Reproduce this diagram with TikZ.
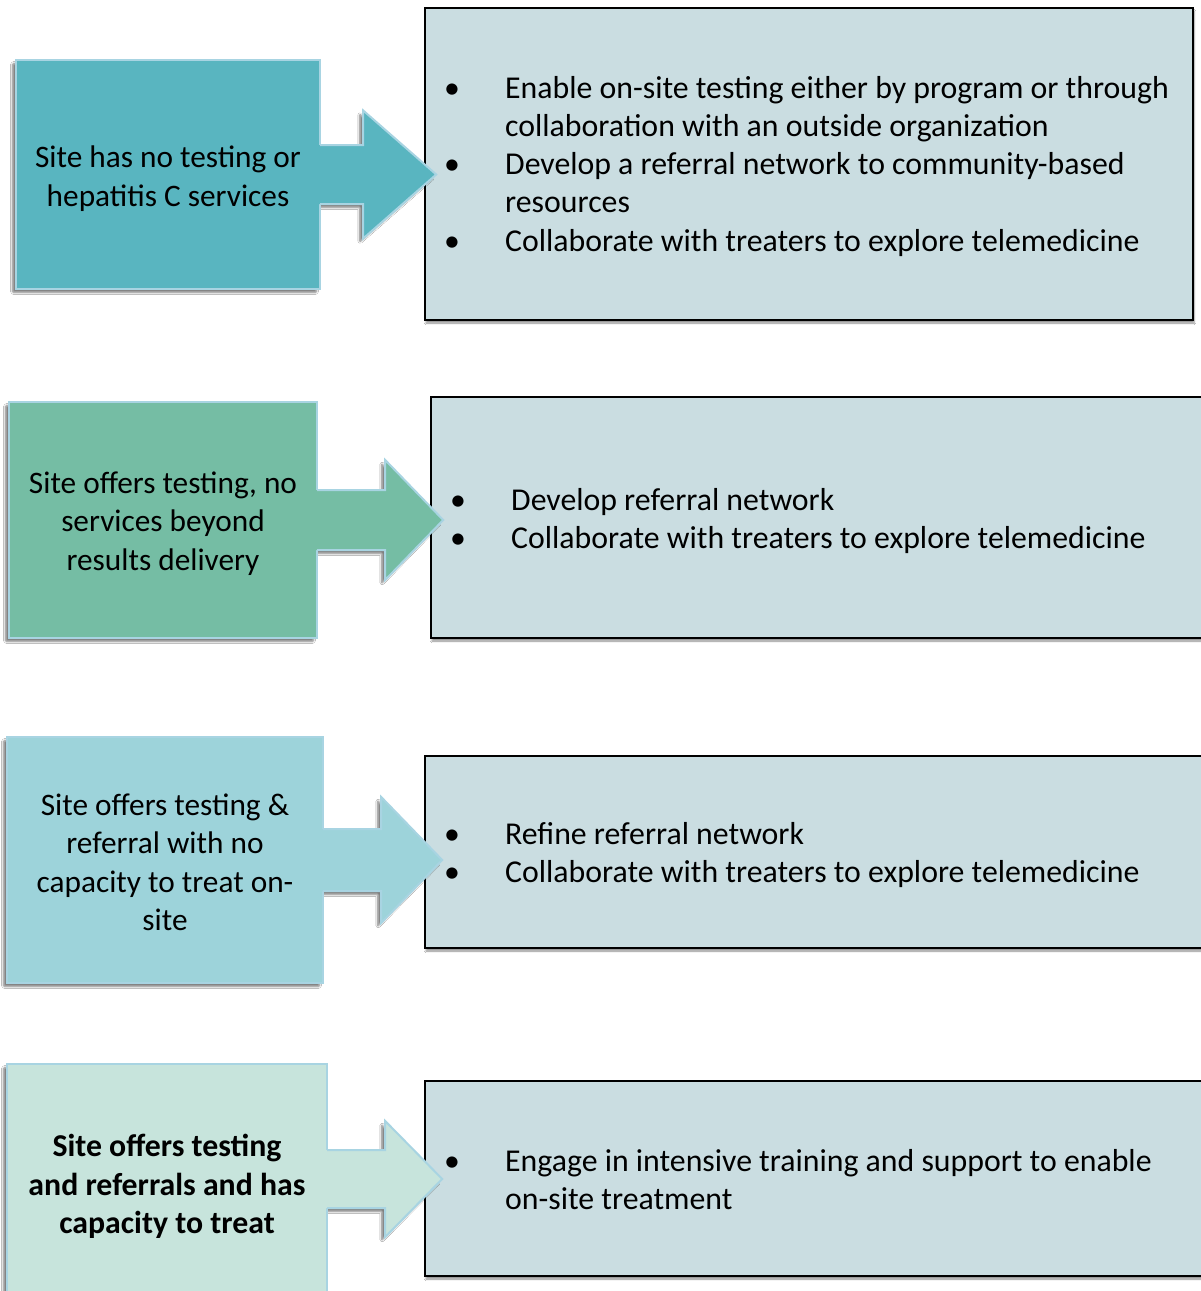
\documentclass[tikz,border=0pt]{standalone}
\usepackage{fontspec}
\setmainfont{Carlito}
\usetikzlibrary{calc,shadows.blur}

\definecolor{stageA}{HTML}{59B5C0}
\definecolor{stageB}{HTML}{75BDA4}
\definecolor{stageC}{HTML}{9DD3DA}
\definecolor{stageD}{HTML}{C7E4DC}
\definecolor{edgeblue}{HTML}{A8D4E2}
\definecolor{panel}{HTML}{CADDE1}

\tikzset{
  softshadow/.style={blur shadow={shadow xshift=-3.5pt,shadow yshift=-3.5pt,
      shadow blur steps=6,shadow blur extra rounding=1pt,shadow opacity=50}},
  stagebox/.style={draw=edgeblue,line width=2pt,inner sep=0pt,softshadow},
  stagetext/.style={align=center,inner sep=0pt,font=\fontsize{31.3}{38.5}\selectfont},
  panelbox/.style={draw=black,line width=1.6pt,fill=panel,inner sep=0pt,
      blur shadow={shadow xshift=1pt,shadow yshift=-3pt,shadow blur steps=6,shadow opacity=45}},
  paneltext/.style={anchor=base west,inner sep=0pt,font=\fontsize{31.8}{38.3}\selectfont},
  arrowedge/.style={draw=edgeblue,line width=2pt,line join=miter},
}

% outline of a block arrow leaving the east side of #1 towards #2
% #3 head base offset, #4 half shaft, #5 half head, #6 tip overlap, #7 shaft start
\newcommand\arrowoutline[7]{%
    ($(#1.east)+(#7,-#4)$) -- ($(#1.east)+(#3,-#4)$) -- ($(#1.east)+(#3,-#5)$)
    -- ($(#1.east -| #2.west)+(#6,0)$)
    -- ($(#1.east)+(#3,#5)$) -- ($(#1.east)+(#3,#4)$) -- ($(#1.east)+(#7,#4)$)}
% arrow shadow (drawn before the stage boxes)
\newcommand\arrowshade[7]{%
  \fill[#7,softshadow] \arrowoutline{#1}{#2}{#3}{#4}{#5}{#6}{0} -- cycle;}
% arrow body and edge (drawn after the stage boxes)
\newcommand\arrowbody[7]{%
  \fill[#7] \arrowoutline{#1}{#2}{#3}{#4}{#5}{#6}{-2} -- cycle;
  \draw[arrowedge] \arrowoutline{#1}{#2}{#3}{#4}{#5}{#6}{0};}

\begin{document}
\begin{tikzpicture}[x=1pt,y=-1pt]
\useasboundingbox[fill=white] (0,0) rectangle (1200,1291);

% action panels
\node[panelbox,minimum width=768pt,minimum height=312pt] (r1) at (809,164) {};
\node[panelbox,minimum width=784pt,minimum height=241pt] (r2) at (823,517.5) {};
\node[panelbox,minimum width=790pt,minimum height=192pt] (r3) at (820,852) {};
\node[panelbox,minimum width=790pt,minimum height=195pt] (r4) at (820,1178.5) {};

% stage box positions
\coordinate (c1) at (168,174.5);
\coordinate (c2) at (163,520);
\coordinate (c3) at (165,860);
\coordinate (c4) at (167,1179);
\path (c1) node[minimum width=304pt,minimum height=229pt,inner sep=0pt] (l1) {}
      (c2) node[minimum width=308pt,minimum height=236pt,inner sep=0pt] (l2) {}
      (c3) node[minimum width=316pt,minimum height=246pt,inner sep=0pt] (l3) {}
      (c4) node[minimum width=320pt,minimum height=230pt,inner sep=0pt] (l4) {};

% arrow shadows
\arrowshade{l1}{r1}{43}{29.5}{64}{12}{stageA}
\arrowshade{l2}{r2}{68}{30}{60}{13}{stageB}
\arrowshade{l3}{r3}{58}{31}{63}{18}{stageC}
\arrowshade{l4}{r4}{58}{29}{58}{18}{stageD}

% stage boxes
\node[stagebox,fill=stageA,minimum width=304pt,minimum height=229pt] at (l1) {};
\node[stagebox,fill=stageB,minimum width=308pt,minimum height=236pt] at (l2) {};
\node[stagebox,fill=stageC,minimum width=316pt,minimum height=246pt] at (l3) {};
\node[stagebox,fill=stageD,minimum width=320pt,minimum height=230pt] at (l4) {};

% arrows from each stage to its actions
\arrowbody{l1}{r1}{43}{29.5}{64}{12}{stageA}
\arrowbody{l2}{r2}{68}{30}{60}{13}{stageB}
\arrowbody{l3}{r3}{58}{31}{63}{18}{stageC}
\arrowbody{l4}{r4}{58}{29}{58}{18}{stageD}

% stage labels
\node[stagetext] (s1) at (168,178.5) {Site has no testing or\\hepatitis C services};
\node[stagetext] (s2) at (163,523.5) {Site offers testing, no\\services beyond\\results delivery};
\node[stagetext] (s3) at (165,862.5) {Site offers testing \&\\referral with no\\capacity to treat on-\\site};
\node[stagetext,font=\fontsize{31.8}{38.5}\selectfont\bfseries] (s4) at (167,1186.5)
  {Site offers testing\\and referrals and has\\capacity to treat};

% action lists
\node[paneltext] (p1) at (444,98) {\begin{tabular}[t]{@{}p{61pt}@{}l@{}}
\textbullet & Enable on-site testing either by program or through\\
 & collaboration with an outside organization\\
\textbullet & Develop a referral network to community-based\\
 & resources\\
\textbullet & Collaborate with treaters to explore telemedicine
\end{tabular}};
\node[paneltext] (p2) at (450,510) {\begin{tabular}[t]{@{}p{61pt}@{}l@{}}
\textbullet & Develop referral network\\
\textbullet & Collaborate with treaters to explore telemedicine
\end{tabular}};
\node[paneltext] (p3) at (444,844) {\begin{tabular}[t]{@{}p{61pt}@{}l@{}}
\textbullet & Refine referral network\\
\textbullet & Collaborate with treaters to explore telemedicine
\end{tabular}};
\node[paneltext] (p4) at (444,1171) {\begin{tabular}[t]{@{}p{61pt}@{}l@{}}
\textbullet & Engage in intensive training and support to enable\\
 & on-site treatment
\end{tabular}};
\end{tikzpicture}
\end{document}
